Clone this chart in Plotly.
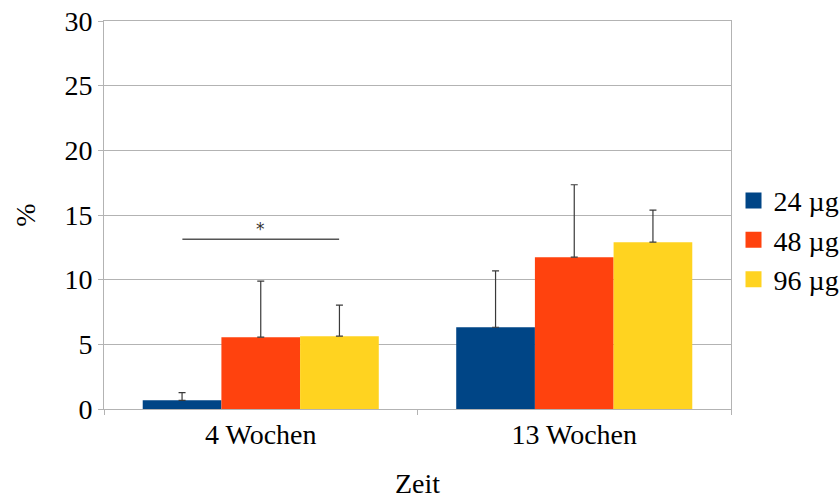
import plotly.graph_objects as go

categories = ["4 Wochen", "13 Wochen"]
series_names = ["24 µg", "48 µg", "96 µg"]
values_24 = [0.67, 6.32]
values_48 = [5.55, 11.74]
values_96 = [5.63, 12.9]
err_24 = [0.6, 4.36]
err_48 = [4.33, 5.6]
err_96 = [2.4, 2.48]
colors = ["#004586", "#ff420e", "#ffd320"]

sig_x = [-0.25, 0.25]
sig_y = 13.13
y_ticks = [0, 5, 10, 15, 20, 25, 30]

FONT = "Liberation Serif, Times New Roman, serif"
FS = 28

fig = go.Figure()
for name, vals, errs, col in zip(series_names, [values_24, values_48, values_96],
                                 [err_24, err_48, err_96], colors):
    fig.add_trace(go.Bar(
        x=categories, y=vals, name=name, marker_color=col, marker_line_width=0,
        showlegend=False, legendgroup=name,
        error_y=dict(type="data", array=errs, symmetric=False, arrayminus=[0] * len(errs),
                     color="#3a3a3a", thickness=1.2, width=3.5),
    ))
# legend entries with larger square swatches
for name, col in zip(series_names, colors):
    fig.add_trace(go.Scatter(
        x=[None], y=[None], mode="markers", name=name, legendgroup=name,
        marker=dict(symbol="square", size=16, color=col, line=dict(width=0)),
    ))

fig.add_shape(type="line", xref="x", yref="y", x0=sig_x[0], x1=sig_x[1], y0=sig_y, y1=sig_y,
              line=dict(color="#555555", width=1.5))
fig.add_annotation(x=(sig_x[0] + sig_x[1]) / 2, y=sig_y, xref="x", yref="y", text="*",
                   showarrow=False, yanchor="bottom", yshift=-2,
                   font=dict(family="DejaVu Sans", size=17, color="#333333"))

fig.update_layout(
    width=840, height=499,
    margin=dict(l=104, r=109, t=21, b=90, autoexpand=False),
    paper_bgcolor="white", plot_bgcolor="white",
    barmode="group", bargap=0.247, bargroupgap=0,
    font=dict(family=FONT, size=FS, color="black"),
    legend=dict(x=1.004, y=0.435, xanchor="left", yanchor="middle",
                font=dict(family=FONT, size=FS, color="black"),
                itemsizing="trace", tracegroupgap=0, bgcolor="rgba(0,0,0,0)"),
    showlegend=True,
)
fig.update_xaxes(
    automargin=False,
    showline=True, linecolor="#b3b3b3", linewidth=1, mirror=True,
    ticks="outside", tickson="boundaries", ticklen=5, tickcolor="#b3b3b3",
    showgrid=False,
    title=dict(text="Zeit", font=dict(family=FONT, size=FS), standoff=28),
    tickfont=dict(family=FONT, size=FS),
)
fig.update_yaxes(
    automargin=False,
    range=[0, 30], tickvals=y_ticks, showline=True, linecolor="#b3b3b3", linewidth=1,
    mirror=True, ticks="outside", ticklen=5, tickcolor="#b3b3b3",
    showgrid=True, gridcolor="#b3b3b3", gridwidth=1, zeroline=False,
    title=dict(text="%", font=dict(family=FONT, size=FS), standoff=20),
    tickfont=dict(family=FONT, size=FS),
)

fig.write_html("out.html", config={"displayModeBar": False},
               post_script="document.body.style.margin='0';")
